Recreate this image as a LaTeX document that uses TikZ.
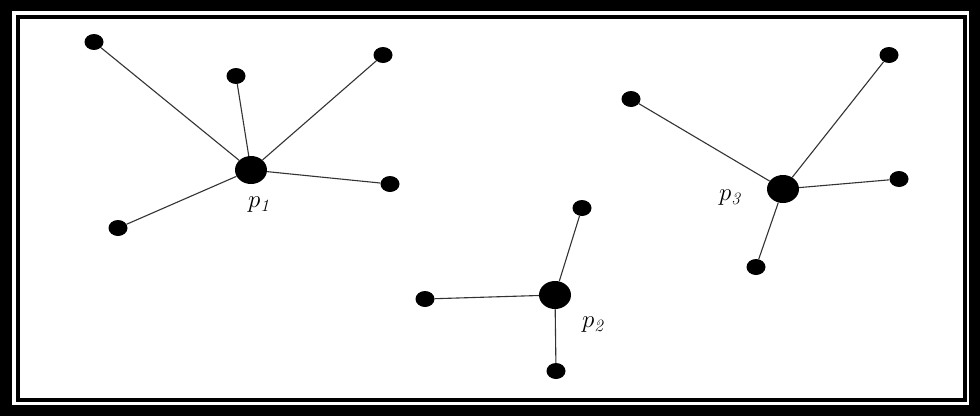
\documentclass[tikz,border=0pt]{standalone}
\usetikzlibrary{shapes.geometric}
\begin{document}
\begin{tikzpicture}[x=1pt,y=-1pt,
  hub/.style={ellipse,fill=black,minimum width=32pt,minimum height=28pt,inner sep=0pt},
  leaf/.style={ellipse,fill=black,minimum width=19pt,minimum height=16pt,inner sep=0pt},
  edge/.style={draw=black!80,line width=1.1pt},
  lab/.style={font=\fontsize{27}{30}\selectfont}]
\useasboundingbox (0,0) rectangle (980,416);
\fill[black] (0,0) rectangle (980,416);
\fill[white] (12,11) rectangle (969,405);
\draw[black,line width=4pt] (18,17) rectangle (965,400);
\fill[white] (20,19) rectangle (963,398);
% p1
\node[hub] (p1) at (251,170) {};
\node[leaf] (a1) at (94,42) {};
\node[leaf] (a2) at (236,76) {};
\node[leaf] (a3) at (383,55) {};
\node[leaf] (a4) at (390,184) {};
\node[leaf] (a5) at (118,228) {};
\foreach \n in {a1,a2,a3,a4,a5} \draw[edge] (p1) -- (\n);
\node[lab] (l1) at (260,205) {$p_{\mathit{1}}$};
% p2
\node[hub] (p2) at (555,295) {};
\node[leaf] (b1) at (582,208) {};
\node[leaf] (b2) at (425,299) {};
\node[leaf] (b3) at (556,371) {};
\foreach \n in {b1,b2,b3} \draw[edge] (p2) -- (\n);
\node[lab] (l2) at (594,325) {$p_{\mathit{2}}$};
% p3
\node[hub] (p3) at (783,189) {};
\node[leaf] (c1) at (889,55) {};
\node[leaf] (c2) at (631,99) {};
\node[leaf] (c3) at (899,179) {};
\node[leaf] (c4) at (756,267) {};
\foreach \n in {c1,c2,c3,c4} \draw[edge] (p3) -- (\n);
\node[lab] (l3) at (731,198) {$p_{\mathit{3}}$};
\end{tikzpicture}
\end{document}
